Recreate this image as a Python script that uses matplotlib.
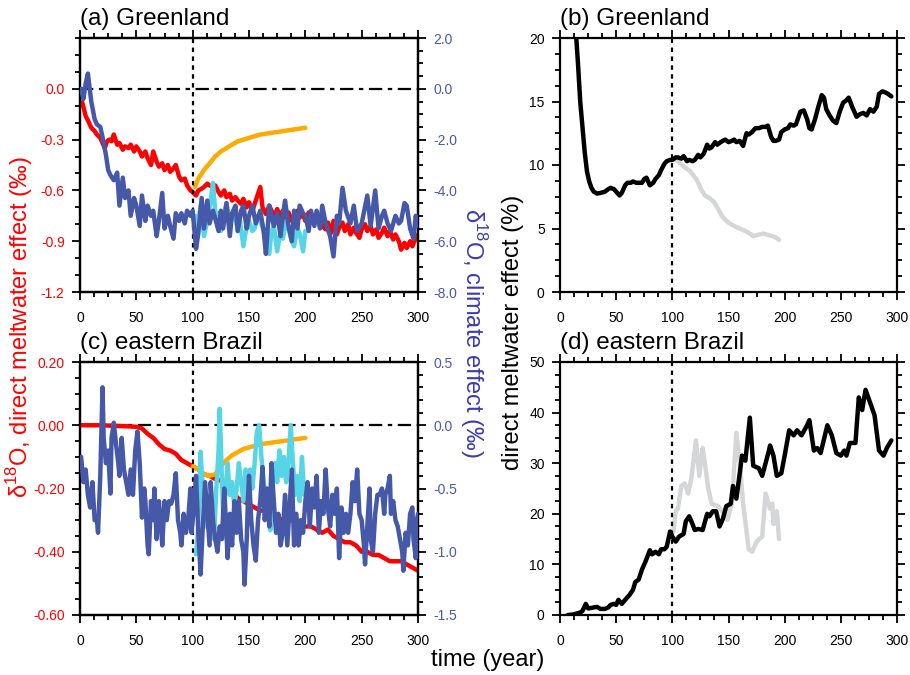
import matplotlib
matplotlib.use('Agg')
import matplotlib.pyplot as plt
from matplotlib.ticker import MultipleLocator, FixedLocator, FuncFormatter

plt.rcParams['font.family'] = ['Liberation Sans', 'DejaVu Sans']

# ---------------- data: (year, value) pairs ----------------
# (a) Greenland, left axis (direct meltwater effect, permil)
a_red = [(2,-0.08),(5,-0.16),(8,-0.20),(10,-0.23),(13,-0.25),(15,-0.27),(18,-0.29),(20,-0.32),(22,-0.35),(24,-0.31),(26,-0.30),
         (28,-0.31),(30,-0.27),(33,-0.33),(35,-0.32),(38,-0.36),(40,-0.34),(43,-0.35),(45,-0.33),(48,-0.37),(50,-0.34),(53,-0.37),
         (55,-0.40),(58,-0.37),(60,-0.41),(63,-0.45),(65,-0.37),(68,-0.43),(70,-0.46),(73,-0.44),(75,-0.48),(78,-0.45),(80,-0.49),
         (83,-0.47),(85,-0.45),(88,-0.52),(90,-0.54),(93,-0.53),(95,-0.57),(98,-0.60),(100,-0.61),(103,-0.63),(105,-0.60),(108,-0.59),
         (110,-0.58),(113,-0.56),(115,-0.57),(118,-0.58),(120,-0.57),(123,-0.61),(125,-0.63),(128,-0.60),(130,-0.64),(133,-0.62),
         (135,-0.66),(138,-0.64),(140,-0.66),(143,-0.68),(145,-0.65),(148,-0.70),(150,-0.67),(153,-0.72),(155,-0.68),(158,-0.62),
         (160,-0.58),(162,-0.70),(165,-0.74),(168,-0.69),(170,-0.72),(173,-0.75),(175,-0.71),(178,-0.76),(180,-0.72),(183,-0.77),
         (185,-0.73),(188,-0.78),(190,-0.75),(193,-0.72),(195,-0.76),(198,-0.74),(200,-0.78),(203,-0.73),(205,-0.77),(208,-0.75),
         (210,-0.78),(213,-0.76),(215,-0.81),(218,-0.83),(220,-0.79),(223,-0.85),(225,-0.78),(228,-0.86),(230,-0.82),(233,-0.79),
         (235,-0.84),(238,-0.80),(240,-0.86),(243,-0.82),(245,-0.85),(248,-0.88),(250,-0.83),(253,-0.80),(255,-0.84),(258,-0.81),
         (260,-0.86),(263,-0.83),(265,-0.88),(268,-0.85),(270,-0.82),(273,-0.87),(275,-0.84),(278,-0.89),(280,-0.86),(283,-0.90),
         (285,-0.95),(288,-0.91),(290,-0.94),(293,-0.90),(295,-0.93),(298,-0.88),(300,-0.86)]
a_orange = [(102,-0.58),(105,-0.53),(110,-0.48),(115,-0.44),(120,-0.40),(125,-0.37),(130,-0.35),(135,-0.33),(140,-0.31),(145,-0.30),
            (150,-0.29),(155,-0.28),(160,-0.27),(165,-0.265),(170,-0.26),(175,-0.255),(180,-0.25),(185,-0.245),(190,-0.24),
            (195,-0.235),(200,-0.23)]
# (a) Greenland, right axis (climate effect, permil)
a_blue = [(1,0.0),(3,-0.4),(5,0.2),(7,0.6),(10,-0.5),(13,-1.2),(15,-1.4),(18,-1.5),(20,-1.9),(23,-2.6),(25,-3.2),(27,-3.4),(30,-3.6),
          (33,-3.3),(35,-4.6),(38,-3.5),(40,-4.3),(43,-4.0),(45,-5.0),(48,-4.3),(50,-4.6),(53,-5.4),(55,-4.2),(58,-5.2),(60,-4.6),
          (63,-5.0),(65,-4.8),(68,-5.8),(70,-5.2),(73,-4.1),(75,-5.5),(78,-5.0),(80,-5.4),(83,-5.9),(85,-4.9),(88,-5.2),(90,-4.9),
          (93,-5.3),(95,-4.8),(98,-5.0),(100,-4.8),(103,-6.3),(105,-5.7),(108,-4.3),(110,-5.5),(113,-4.4),(115,-5.3),(118,-4.8),
          (120,-5.1),(123,-5.6),(125,-4.8),(127,-5.5),(130,-4.5),(133,-5.8),(135,-4.9),(138,-4.6),(140,-5.6),(143,-4.8),(145,-4.6),
          (148,-5.5),(150,-5.0),(153,-4.6),(156,-5.3),(160,-4.8),(163,-5.6),(165,-6.5),(168,-4.6),(172,-5.4),(175,-4.9),(178,-5.8),
          (180,-5.0),(182,-4.4),(185,-5.4),(188,-6.0),(190,-4.8),(193,-5.5),(195,-4.6),(198,-4.9),(200,-5.0),(203,-5.6),(205,-4.8),
          (208,-5.4),(210,-4.8),(213,-5.5),(215,-4.6),(218,-5.3),(222,-5.8),(225,-6.6),(228,-5.0),(230,-5.3),(233,-3.9),(236,-4.8),
          (240,-5.3),(243,-4.6),(246,-5.6),(250,-5.3),(255,-4.2),(258,-5.4),(262,-4.0),(265,-5.5),(268,-5.0),(270,-4.8),(273,-5.3),
          (276,-5.6),(280,-5.0),(283,-5.3),(285,-5.2),(288,-4.5),(290,-4.6),(293,-5.5),(296,-5.9),(298,-5.0),(300,-5.4)]
a_cyan = [(102,-5.0),(104,-5.5),(107,-4.6),(110,-5.8),(113,-5.2),(116,-4.4),(118,-3.7),(120,-4.8),(123,-5.2),(125,-5.6),(128,-4.9),
          (130,-4.5),(133,-5.3),(137,-4.8),(140,-5.6),(142,-5.2),(145,-6.2),(148,-5.4),(150,-5.2),(153,-5.6),(155,-5.5),(158,-5.0),
          (160,-5.2),(163,-5.6),(165,-6.0),(168,-6.5),(170,-5.6),(172,-5.4),(175,-6.4),(178,-5.6),(180,-5.9),(183,-5.2),(185,-5.5),
          (188,-6.0),(190,-6.2),(193,-5.5),(195,-5.7),(198,-6.4),(200,-5.6)]

# (b) Greenland, direct meltwater effect (%)
b_black = [(13,22.0),(16,18.0),(18,15.0),(20,13.0),(22,11.0),(24,9.5),(26,8.7),(28,8.2),(30,7.9),(33,7.75),(36,7.8),(40,7.9),
           (43,8.1),(45,8.2),(48,8.1),(50,7.9),(53,7.6),(55,7.8),(58,8.4),(60,8.6),(63,8.6),(65,8.7),(68,8.6),(70,8.6),(73,8.6),
           (75,8.9),(77,9.0),(80,8.4),(83,8.6),(85,8.9),(88,9.2),(90,9.6),(93,10.1),(95,10.3),(98,10.4),(100,10.4),(103,10.6),
           (105,10.6),(108,10.5),(110,10.7),(113,10.3),(115,10.4),(118,10.3),(120,10.4),(123,10.8),(125,10.6),(128,10.9),(131,11.6),
           (133,11.3),(135,11.4),(138,11.8),(140,11.6),(143,11.8),(147,12.0),(150,11.8),(153,11.9),(155,12.0),(157,11.8),(160,11.9),
           (163,11.5),(166,12.5),(168,12.4),(171,12.6),(174,12.9),(177,12.9),(180,13.0),(183,13.0),(185,13.1),(188,12.2),(190,11.9),
           (192,11.9),(195,12.0),(197,12.6),(200,12.8),(203,12.9),(205,13.2),(208,13.1),(210,13.2),(214,14.2),(217,14.3),(220,13.6),
           (222,12.9),(224,12.8),(227,13.6),(230,14.6),(233,15.5),(235,15.3),(237,14.4),(240,13.9),(243,13.5),(246,13.3),(249,14.2),
           (252,14.9),(255,15.1),(257,15.3),(260,14.6),(264,13.8),(267,14.0),(270,14.1),(273,13.9),(276,14.4),(279,14.2),(282,14.6),
           (284,15.6),(287,15.8),(290,15.7),(292,15.6),(295,15.4)]
b_grey = [(100,10.4),(102,10.5),(106,10.2),(110,9.9),(116,9.5),(122,8.8),(126,8.0),(129,7.6),(133,7.4),(137,7.1),(141,6.5),(144,6.0),
          (148,5.6),(151,5.4),(155,5.2),(160,5.0),(165,4.8),(169,4.6),(172,4.4),(176,4.5),(181,4.6),(185,4.5),(189,4.4),(192,4.3),
          (195,4.1)]

# (c) eastern Brazil, left axis
c_red = [(0,0.0),(10,0.0),(20,0.0),(30,-0.002),(40,-0.003),(50,-0.005),(55,-0.01),(60,-0.027),(65,-0.04),(70,-0.06),(75,-0.075),
         (80,-0.08),(85,-0.09),(90,-0.11),(95,-0.12),(100,-0.13),(105,-0.14),(110,-0.155),(115,-0.16),(120,-0.17),(125,-0.175),
         (130,-0.19),(135,-0.21),(140,-0.23),(145,-0.24),(150,-0.25),(155,-0.26),(160,-0.27),(165,-0.27),(170,-0.28),(175,-0.29),
         (180,-0.30),(185,-0.30),(190,-0.30),(195,-0.31),(200,-0.32),(205,-0.32),(210,-0.33),(215,-0.34),(220,-0.33),(225,-0.35),
         (230,-0.36),(235,-0.37),(240,-0.37),(245,-0.38),(250,-0.40),(255,-0.40),(260,-0.41),(265,-0.41),(270,-0.42),(275,-0.43),
         (280,-0.43),(285,-0.43),(290,-0.44),(295,-0.45),(300,-0.46)]
c_orange = [(100,-0.13),(105,-0.14),(110,-0.155),(115,-0.16),(120,-0.155),(125,-0.13),(130,-0.11),(135,-0.095),(140,-0.085),
            (145,-0.075),(150,-0.07),(155,-0.065),(160,-0.06),(170,-0.055),(180,-0.05),(190,-0.045),(200,-0.04)]
# (c) eastern Brazil, right axis
c_blue = [(1,-0.25),(3,-0.45),(5,-0.35),(7,-0.55),(9,-0.65),(11,-0.45),(13,-0.75),(15,-0.75),(16,-0.85),(18,-0.4),(20,0.3),(21,-0.1),
          (23,-0.3),(25,-0.2),(27,-0.54),(28,-0.1),(30,0.02),(32,-0.15),(34,-0.3),(35,-0.4),(37,-0.1),(39,-0.35),(41,-0.45),
          (43,-0.55),(45,-0.35),(47,-0.55),(49,-0.2),(51,-0.05),(53,-0.3),(55,-0.73),(57,-0.5),(58,-0.6),(60,-0.95),(61,-1.02),
          (63,-0.6),(65,-0.75),(66,-0.5),(68,-0.9),(70,-0.6),(72,-0.8),(73,-0.95),(75,-0.6),(77,-0.75),(79,-0.6),(81,-0.62),
          (83,-0.55),(85,-0.38),(87,-0.75),(89,-0.85),(90,-0.95),(92,-0.7),(94,-0.85),(96,-0.75),(98,-0.5),(99,-0.85),(101,-0.65),
          (103,-0.4),(105,-0.85),(106,-1.0),(107,-1.18),(109,-0.8),(111,-0.45),(113,-0.7),(115,-0.95),(116,-0.45),(118,-0.75),
          (120,-0.9),(122,-1.0),(124,-0.8),(126,-0.9),(128,-0.5),(130,-0.85),(131,-1.05),(133,-0.7),(135,-0.95),(137,-0.6),
          (139,-0.85),(141,-0.6),(143,-0.9),(145,-1.0),(146,-1.26),(148,-0.9),(149,-0.6),(150,-0.4),(152,-0.75),(154,-0.95),
          (156,-1.07),(158,-0.75),(160,-0.6),(162,-0.33),(164,-0.75),(166,-0.5),(168,-0.8),(170,-0.3),(172,-0.6),(174,-0.85),
          (176,-0.7),(178,-0.95),(180,-0.85),(182,-0.55),(184,-0.95),(186,-0.65),(188,-0.35),(190,-0.95),(192,-0.7),(194,-0.95),
          (196,-0.75),(198,-0.85),(200,-0.6),(202,-0.45),(204,-0.8),(206,-0.5),(208,-0.65),(210,-0.4),(212,-0.85),(214,-0.6),
          (216,-0.7),(218,-0.35),(220,-0.65),(222,-0.8),(224,-0.55),(226,-0.7),(228,-0.5),(230,-1.05),(232,-0.65),(234,-0.85),
          (236,-0.7),(238,-0.85),(240,-0.7),(242,-0.45),(244,-0.6),(246,-0.35),(248,-0.7),(250,-0.75),(252,-0.95),(253,-1.1),
          (255,-0.8),(257,-0.5),(258,-0.9),(260,-1.0),(262,-0.7),(264,-0.55),(266,-0.55),(268,-0.5),(270,-0.7),(271,-0.55),
          (273,-0.5),(275,-0.4),(276,-0.7),(278,-0.6),(280,-0.75),(282,-0.8),(284,-0.9),(286,-1.0),(287,-1.15),(289,-0.85),
          (291,-0.95),(293,-0.7),(295,-0.65),(296,-0.9),(298,-1.05),(299,-0.75),(300,-0.7)]
c_cyan = [(103,-1.02),(105,-0.8),(107,-0.21),(109,-0.5),(111,-0.8),(113,-0.6),(115,-0.9),(117,-0.6),(119,-0.9),(121,-0.5),(123,-0.2),
          (124,0.13),(125,-0.15),(127,-0.7),(129,-0.55),(131,-0.3),(133,-0.55),(135,-0.45),(137,-0.65),(139,-0.5),(141,-0.3),
          (143,-0.45),(145,-0.6),(147,-0.35),(149,-0.5),(151,-0.35),(153,-0.5),(155,-0.3),(157,-0.05),(159,0.0),(161,-0.25),
          (163,-0.45),(165,-0.55),(167,-0.65),(169,-0.83),(171,-0.4),(173,-0.3),(175,-0.45),(177,-0.2),(179,-0.4),(181,-0.25),
          (183,-0.45),(185,-0.3),(187,0.0),(189,-0.3),(191,-0.55),(193,-0.4),(195,-0.6),(197,-0.25),(199,-0.55)]

# (d) eastern Brazil, direct meltwater effect (%)
d_black = [(7,0.0),(12,0.1),(15,0.3),(18,0.5),(20,0.8),(23,2.2),(25,1.3),(28,1.4),(30,1.5),(33,1.6),(36,1.2),(40,1.2),(43,1.5),
           (45,2.0),(48,2.2),(50,2.0),(52,3.0),(55,2.2),(58,3.0),(62,4.0),(65,5.0),(67,6.5),(70,7.0),(73,9.0),(76,10.5),(80,12.8),
           (82,12.0),(85,12.5),(88,12.0),(90,13.0),(93,13.0),(95,13.5),(98,16.5),(100,15.5),(103,14.5),(106,15.5),(110,16.0),
           (112,18.5),(115,19.5),(117,18.5),(120,16.8),(123,17.0),(127,16.8),(131,20.0),(133,19.5),(136,20.5),(139,20.5),(142,17.5),
           (145,19.0),(148,21.5),(152,22.0),(154,25.5),(157,23.0),(160,28.0),(162,31.5),(165,30.5),(169,39.0),(172,29.5),(177,29.0),
           (180,27.5),(186,32.5),(187,33.5),(190,31.5),(193,27.5),(197,28.0),(200,31.5),(204,36.5),(208,35.5),(211,36.5),(215,35.5),
           (220,37.5),(222,38.5),(226,32.5),(229,33.0),(232,32.0),(238,37.5),(242,35.5),(246,32.0),(250,31.5),(253,32.5),(255,31.5),
           (258,34.0),(263,34.0),(266,43.0),(269,40.5),(272,44.5),(276,42.0),(280,39.5),(284,32.5),(288,31.5),(291,33.0),(295,34.5)]
d_grey = [(101,16.5),(103,20.5),(105,21.0),(108,25.5),(111,26.0),(114,24.0),(117,27.0),(121,34.5),(124,27.5),(127,33.0),(129,30.0),
          (132,25.0),(135,22.0),(141,21.5),(146,20.0),(149,18.8),(153,22.0),(157,36.0),(160,30.0),(163,22.0),(168,13.0),(171,12.5),
          (175,14.5),(180,15.5),(183,24.0),(187,21.0),(189,22.0),(190,18.0),(193,20.5),(195,15.0)]

xticks = [0, 50, 100, 150, 200, 250, 300]
a_left_ticks = [-1.2, -0.9, -0.6, -0.3, 0.0]
a_right_ticks = [-8.0, -6.0, -4.0, -2.0, 0.0, 2.0]
c_left_ticks = [-0.6, -0.4, -0.2, 0.0, 0.2]
c_right_ticks = [-1.5, -1.0, -0.5, 0.0, 0.5]
b_ticks = [0, 5, 10, 15, 20]
d_ticks = [0, 10, 20, 30, 40, 50]

# ---------------- style ----------------
RED = '#ff0000'
ORANGE = '#ffaa00'
BLUE = '#4659a8'
CYAN = '#55d5e6'
BLUETXT = '#4a5aab'
LABBLUE = '#3b3bb0'
GREY = '#d4d6d8'
LW = 3.2
TICKFS = 10

W, H = 910, 675
fig = plt.figure(figsize=(W / 100, H / 100), dpi=100)


def split(pairs):
    return [p[0] for p in pairs], [p[1] for p in pairs]


def box(l, t, r, b):
    return [l / W, 1 - b / H, (r - l) / W, (b - t) / H]


def style_axis(ax):
    for s in ax.spines.values():
        s.set_linewidth(1.6)
    ax.tick_params(which='both', direction='out', width=1.3, labelsize=TICKFS)
    ax.tick_params(which='major', length=6, pad=5)
    ax.tick_params(which='minor', length=3.8)


def setup_x(ax):
    ax.set_xlim(0, 300)
    ax.xaxis.set_major_locator(FixedLocator(xticks))
    ax.xaxis.set_minor_locator(MultipleLocator(12.5))
    ax.tick_params(axis='x', which='both', top=True, bottom=True, labeltop=False)
    ax.tick_params(axis='x', which='major', pad=8)


def refs(ax, hline=True):
    ax.axvline(100, color='black', lw=1.6, ls=(0, (2, 2)), zorder=5)
    if hline:
        ax.axhline(0, color='black', lw=1.6, ls=(0, (6, 2.5, 2, 2.5)), zorder=1)


plot_kw = dict(lw=LW, solid_joinstyle='round', solid_capstyle='round')


def draw(ax, pairs, color, z):
    t, v = split(pairs)
    ax.plot(t, v, color=color, zorder=z, **plot_kw)


fmt1 = FuncFormatter(lambda v, p: '%.1f' % v)
fmt2 = FuncFormatter(lambda v, p: '%.2f' % v)

# ---------- (a) ----------
axa = fig.add_axes(box(80, 38, 418, 292))
style_axis(axa)
setup_x(axa)
axa.set_ylim(-1.2, 0.3)
axa.yaxis.set_major_locator(FixedLocator(a_left_ticks))
axa.yaxis.set_minor_locator(FixedLocator([-1.1, -1.0, -0.8, -0.7, -0.5, -0.4, -0.2, -0.1, 0.1, 0.2, 0.3]))
axa.yaxis.set_major_formatter(fmt1)
axa.tick_params(axis='y', labelcolor=RED, which='both', right=False)
refs(axa)
draw(axa, a_red, RED, 3)
draw(axa, a_orange, ORANGE, 4)
axa.text(0.0, 1.03, '(a) Greenland', transform=axa.transAxes, fontsize=17.5, ha='left', va='bottom')
axa2 = axa.twinx()
style_axis(axa2)
axa2.set_ylim(-8.0, 2.0)
axa2.yaxis.set_major_locator(FixedLocator(a_right_ticks))
axa2.yaxis.set_minor_locator(MultipleLocator(0.5))
axa2.yaxis.set_major_formatter(fmt1)
axa2.tick_params(axis='y', labelcolor=BLUETXT)
draw(axa2, a_cyan, CYAN, 3)
draw(axa2, a_blue, BLUE, 4)

# ---------- (c) ----------
axc = fig.add_axes(box(80, 362, 418, 615))
style_axis(axc)
setup_x(axc)
axc.set_ylim(-0.6, 0.2)
axc.yaxis.set_major_locator(FixedLocator(c_left_ticks))
axc.yaxis.set_minor_locator(MultipleLocator(0.05))
axc.yaxis.set_major_formatter(fmt2)
axc.tick_params(axis='y', labelcolor=RED, which='both', right=False)
refs(axc)
draw(axc, c_red, RED, 3)
draw(axc, c_orange, ORANGE, 4)
axc.text(0.0, 1.03, '(c) eastern Brazil', transform=axc.transAxes, fontsize=17.5, ha='left', va='bottom')
axc2 = axc.twinx()
style_axis(axc2)
axc2.set_ylim(-1.5, 0.5)
axc2.yaxis.set_major_locator(FixedLocator(c_right_ticks))
axc2.yaxis.set_minor_locator(MultipleLocator(0.1))
axc2.yaxis.set_major_formatter(fmt1)
axc2.tick_params(axis='y', labelcolor=BLUETXT)
draw(axc2, c_cyan, CYAN, 3)
draw(axc2, c_blue, BLUE, 4)

# ---------- (b) ----------
axb = fig.add_axes(box(560, 38, 897, 292))
style_axis(axb)
setup_x(axb)
axb.set_ylim(0, 20)
axb.yaxis.set_major_locator(FixedLocator(b_ticks))
axb.yaxis.set_minor_locator(MultipleLocator(1.25))
axb.tick_params(axis='y', which='both', right=True)
refs(axb, hline=False)
draw(axb, b_grey, GREY, 2)
draw(axb, b_black, 'black', 3)
axb.text(0.0, 1.03, '(b) Greenland', transform=axb.transAxes, fontsize=17.5, ha='left', va='bottom')

# ---------- (d) ----------
axd = fig.add_axes(box(560, 362, 897, 615))
style_axis(axd)
setup_x(axd)
axd.set_ylim(0, 50)
axd.yaxis.set_major_locator(FixedLocator(d_ticks))
axd.yaxis.set_minor_locator(MultipleLocator(2.5))
axd.tick_params(axis='y', which='both', right=True)
refs(axd, hline=False)
draw(axd, d_grey, GREY, 2)
draw(axd, d_black, 'black', 3)
axd.text(0.0, 1.03, '(d) eastern Brazil', transform=axd.transAxes, fontsize=17.5, ha='left', va='bottom')

# ---------- shared labels ----------
fig.text(20 / W, 1 - 327 / H, 'δ$^{\\mathregular{18}}$O, direct meltwater effect (‰)', rotation=90,
         color=RED, fontsize=17, ha='center', va='center')
fig.text(473 / W, 1 - 333 / H, 'δ$^{\\mathregular{18}}$O, climate effect (‰)', rotation=-90,
         color=LABBLUE, fontsize=17, ha='center', va='center')
fig.text(513 / W, 1 - 332 / H, 'direct meltwater effect (%)', rotation=90,
         color='black', fontsize=17, ha='center', va='center')
fig.text(488 / W, 1 - 660 / H, 'time (year)', color='black', fontsize=17, ha='center', va='center')

fig.savefig('out.png', dpi=100)
